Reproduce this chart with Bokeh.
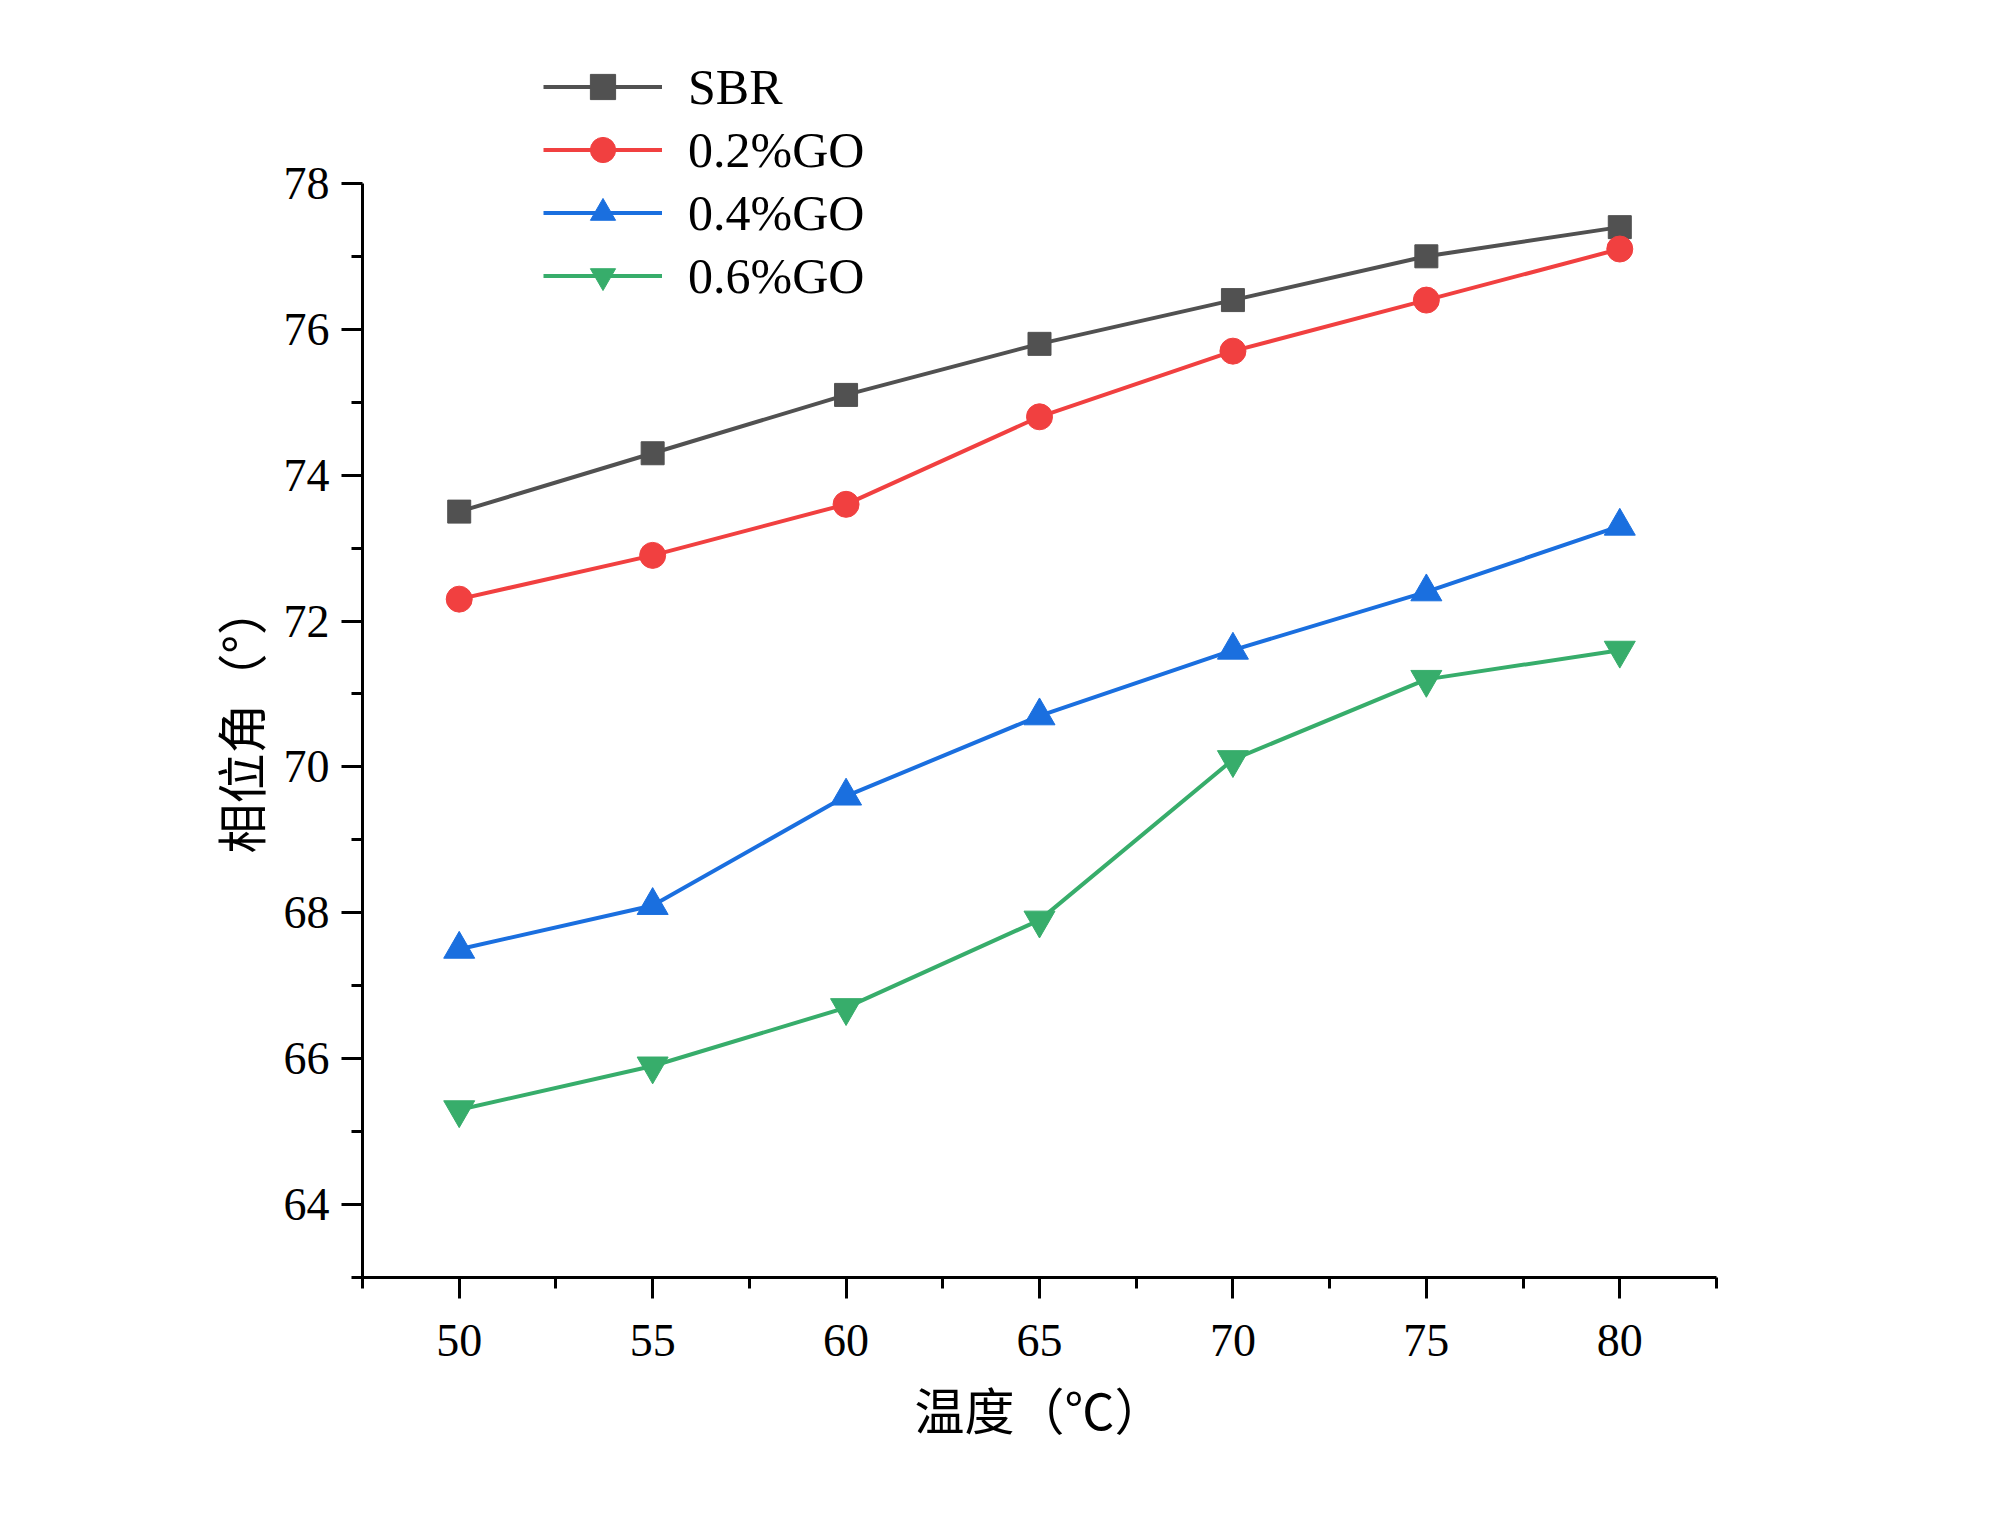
from bokeh.plotting import figure
from bokeh.models import Range1d, FixedTicker, Legend, LegendItem, Title
from bokeh.embed import file_html
from bokeh.resources import INLINE

temps = [50, 55, 60, 65, 70, 75, 80]
sbr = [73.5, 74.3, 75.1, 75.8, 76.4, 77.0, 77.4]
go02 = [72.3, 72.9, 73.6, 74.8, 75.7, 76.4, 77.1]
go04 = [67.5, 68.1, 69.6, 70.7, 71.6, 72.4, 73.3]
go06 = [65.3, 65.9, 66.7, 67.9, 70.1, 71.2, 71.6]

series_names = ["SBR", "0.2%GO", "0.4%GO", "0.6%GO"]
x_ticks = [50, 55, 60, 65, 70, 75, 80]
x_minor = [47.5, 52.5, 57.5, 62.5, 67.5, 72.5, 77.5, 82.5]
y_ticks = [64, 66, 68, 70, 72, 74, 76, 78]
y_minor = [63, 65, 67, 69, 71, 73, 75, 77]

colors = ["#515151", "#F14040", "#1A6FDF", "#37AD6B"]
markers = ["square", "circle", "triangle", "inverted_triangle"]
sizes = [23, 26, 31, 31]

W, H = 1984, 1522
p = figure(width=W, height=H, output_backend="svg", toolbar_location=None,
           x_range=Range1d(47.5, 82.5), y_range=Range1d(63, 80),
           min_border_left=362, min_border_right=268,
           min_border_top=37, min_border_bottom=245)
p.outline_line_color = None
p.grid.visible = False
p.background_fill_color = "white"

SERIF = "Liberation Serif"
CJK = "Noto Sans CJK SC"

for ax in (p.xaxis[0], p.yaxis[0]):
    ax.axis_line_width = 3
    ax.axis_line_color = "black"
    ax.major_tick_line_width = 3
    ax.minor_tick_line_width = 3
    ax.major_tick_out = 21
    ax.major_tick_in = 0
    ax.minor_tick_out = 11
    ax.minor_tick_in = 0
    ax.major_label_text_font = SERIF
    ax.major_label_text_font_size = "46px"
    ax.major_label_text_color = "black"
    ax.axis_label_text_font = CJK
    ax.axis_label_text_font_size = "50px"
    ax.axis_label_text_font_style = "normal"
    ax.axis_label_text_color = "black"

p.xaxis[0].ticker = FixedTicker(ticks=x_ticks, minor_ticks=x_minor)
p.yaxis[0].ticker = FixedTicker(ticks=y_ticks, minor_ticks=y_minor)
p.yaxis[0].bounds = (63, 78)
p.xaxis[0].major_label_standoff = 26
p.yaxis[0].major_label_standoff = 12
p.xaxis[0].axis_label = "温度（℃）"
p.xaxis[0].axis_label_standoff = 13

# y-axis title, centred on the 63..78 part of the axis
ytitle = Title(text="相位角（°）", align="left", offset=424, standoff=12,
               text_font=CJK, text_font_size="50px", text_font_style="normal",
               text_color="black")
p.add_layout(ytitle, "left")

items = []
for name, ys, c, m, s in zip(series_names, [sbr, go02, go04, go06], colors, markers, sizes):
    ln = p.line(temps, ys, line_color=c, line_width=4, line_join="round")
    sc = p.scatter(temps, ys, marker=m, size=s, fill_color=c, line_color=c, line_width=1)
    items.append(LegendItem(label=name, renderers=[ln, sc]))

legend = Legend(items=items, location=(181, 970), orientation="vertical",
                glyph_width=119, glyph_height=63, label_height=63,
                label_standoff=26, spacing=0, padding=0, margin=0,
                label_text_font=SERIF, label_text_font_size="50px",
                label_text_color="black",
                border_line_alpha=0, background_fill_alpha=0)
p.add_layout(legend, "center")

open("out.html", "w").write(file_html(p, INLINE))
